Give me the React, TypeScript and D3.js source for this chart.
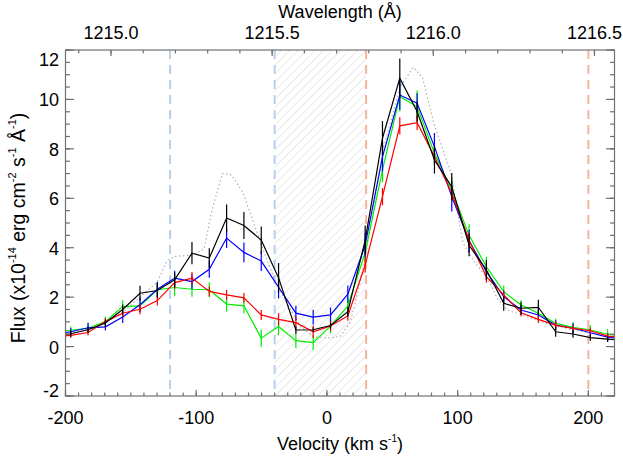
import React, { useEffect, useRef } from 'react';
import * as d3 from 'd3';

const WIDTH = 623;
const HEIGHT = 461;

// velocity bins (km/s); first and last bins sit just outside the frame
const velocity = [
  -209.25, -196, -182.75, -169.5, -156.25, -143, -129.75, -116.5, -103.25, -90,
  -76.75, -63.5, -50.25, -37, -23.75, -10.5, 2.75, 16, 29.25, 42.5,
  55.75, 69, 82.25, 95.5, 108.75, 122, 135.25, 148.5, 161.75, 175,
  188.25, 201.5, 214.75, 228,
];

const fluxBlack = [
  0.42, 0.52, 0.68, 0.95, 1.5, 2.16, 2.27, 2.7, 3.78, 3.58,
  5.2, 4.9, 4.31, 2.78, 0.67, 0.68, 0.85, 1.41, 4.3, 8.43,
  10.86, 9.51, 7.55, 6.47, 4.1, 3.1, 1.75, 1.55, 1.59, 0.6,
  0.51, 0.36, 0.3, 0.25,
];
const errBlack = [
  0.12, 0.12, 0.12, 0.15, 0.2, 0.3, 0.3, 0.3, 0.45, 0.4,
  0.55, 0.55, 0.55, 0.6, 0.15, 0.1, 0.12, 0.2, 0.6, 0.7,
  0.8, 0.4, 0.55, 0.55, 0.45, 0.4, 0.3, 0.25, 0.3, 0.2,
  0.15, 0.12, 0.12, 0.12,
];

const fluxBlue = [
  0.5, 0.6, 0.76, 0.8, 1.2, 1.69, 2.32, 2.77, 2.63, 3.13,
  4.39, 3.81, 3.46, 2.4, 1.35, 1.19, 1.28, 2.12, 4.1, 7.68,
  10.18, 9.85, 8.09, 6.07, 4.28, 3.03, 2.02, 1.48, 1.28, 0.87,
  0.74, 0.56, 0.38, 0.3,
];
const errBlue = [
  0.12, 0.15, 0.2, 0.15, 0.25, 0.3, 0.3, 0.3, 0.3, 0.35,
  0.4, 0.4, 0.4, 0.45, 0.3, 0.3, 0.3, 0.35, 0.5, 0.6,
  0.6, 0.4, 0.55, 0.6, 0.45, 0.35, 0.25, 0.2, 0.2, 0.2,
  0.2, 0.15, 0.15, 0.15,
];

const fluxGreen = [
  0.6, 0.66, 0.74, 1.01, 1.62, 1.65, 2.3, 2.39, 2.32, 2.3,
  1.72, 1.65, 0.34, 0.81, 0.24, 0.16, 0.83, 1.64, 3.8, 7.15,
  10.11, 9.71, 7.82, 6.34, 4.5, 3.23, 2.22, 1.68, 1.35, 0.94,
  0.78, 0.67, 0.5, 0.42,
];
const errGreen = [
  0.12, 0.15, 0.2, 0.2, 0.25, 0.25, 0.3, 0.35, 0.3, 0.3,
  0.3, 0.3, 0.35, 0.35, 0.3, 0.3, 0.3, 0.35, 0.5, 0.5,
  0.6, 0.65, 0.45, 0.5, 0.45, 0.4, 0.25, 0.2, 0.2, 0.2,
  0.2, 0.2, 0.2, 0.2,
];

const fluxRed = [
  0.4, 0.45, 0.57, 1.01, 1.35, 1.51, 1.86, 2.59, 2.77, 2.23,
  2.09, 1.97, 1.28, 1.1, 0.97, 0.6, 0.83, 1.24, 3.3, 6.07,
  8.93, 9.06, 7.69, 6.2, 4.3, 2.83, 2.09, 1.37, 1.1, 0.87,
  0.74, 0.64, 0.42, 0.35,
];
const errRed = [
  0.1, 0.1, 0.12, 0.15, 0.15, 0.2, 0.2, 0.25, 0.25, 0.2,
  0.2, 0.2, 0.2, 0.25, 0.25, 0.25, 0.2, 0.2, 0.3, 0.35,
  0.35, 0.3, 0.3, 0.3, 0.3, 0.25, 0.15, 0.15, 0.15, 0.15,
  0.12, 0.12, 0.12, 0.12,
];

// dotted reference profile
const dottedVel = [
  -212, -200, -183, -170, -156, -143, -130, -122, -116, -103,
  -94, -88, -80, -73, -64, -56, -48, -40, -30, -20,
  -10, 0, 10, 18, 25, 30, 43, 56, 66, 73,
  82, 95, 104, 112, 125, 130, 138, 156, 171, 190,
  205, 225,
];
const dottedFlux = [
  0.45, 0.5, 0.7, 0.95, 1.4, 2.0, 2.6, 3.5, 3.65, 3.7,
  3.95, 5.5, 7.0, 6.95, 6.2, 5.0, 3.8, 2.7, 1.7, 0.8,
  0.4, 0.35, 0.4, 1.0, 2.5, 3.8, 8.0, 10.5, 11.3, 10.9,
  9.0, 7.0, 4.2, 3.5, 2.57, 1.97, 1.48, 1.16, 0.88, 0.65,
  0.55, 0.45,
];

const velTicks = [-200, -100, 0, 100, 200];
const waveTicks = [1215.0, 1215.5, 1216.0, 1216.5];
const fluxTicks = [-2, 0, 2, 4, 6, 8, 10, 12];
const blueLines = [-120, -40];
const redLines = [30, 200];
const maskRange = [-40, 30];

const LYA = 1215.67;
const C_KMS = 299792.458;
const FONT = 'Liberation Sans, Arial, Helvetica, sans-serif';

export default function App() {
  const ref = useRef<SVGSVGElement>(null);

  useEffect(() => {
    const svg = d3.select(ref.current);
    svg.selectAll('*').remove();

    const left = 65.5, right = 614.5, top = 50, bottom = 396;

    const x = d3.scaleLinear().domain([-200, 220]).range([left, right]);
    const y = d3.scaleLinear().domain([-2, 12]).range([bottom, top]);
    const waveToVel = (w: number) => (C_KMS * (w - LYA)) / LYA;

    const defs = svg.append('defs');
    defs.append('clipPath').attr('id', 'frame')
      .append('rect')
      .attr('x', left).attr('y', top)
      .attr('width', right - left).attr('height', bottom - top);
    const pat = defs.append('pattern')
      .attr('id', 'hatch')
      .attr('patternUnits', 'userSpaceOnUse')
      .attr('width', 6).attr('height', 6)
      .attr('patternTransform', 'rotate(45)');
    pat.append('line')
      .attr('x1', 0).attr('y1', 0).attr('x2', 0).attr('y2', 6)
      .attr('stroke', '#d4d4d4').attr('stroke-width', 1);

    const plot = svg.append('g').attr('clip-path', 'url(#frame)');

    // masked velocity range
    plot.append('rect')
      .attr('x', x(maskRange[0])).attr('y', top)
      .attr('width', x(maskRange[1]) - x(maskRange[0]))
      .attr('height', bottom - top)
      .attr('fill', 'url(#hatch)');

    const vline = (vals: number[], color: string) => {
      plot.selectAll(null).data(vals).enter().append('line')
        .attr('x1', (d) => x(d)).attr('x2', (d) => x(d))
        .attr('y1', top).attr('y2', bottom)
        .attr('stroke', color).attr('stroke-width', 2)
        .attr('stroke-dasharray', '9,6');
    };
    vline(blueLines, '#b4d0ec');
    vline(redLines, '#f6b39c');

    const line = d3.line<[number, number]>()
      .x((d) => x(d[0]))
      .y((d) => y(d[1]));

    plot.append('path')
      .attr('d', line(dottedVel.map((v, i) => [v, dottedFlux[i]])))
      .attr('fill', 'none')
      .attr('stroke', '#b0b0b0')
      .attr('stroke-width', 1.2)
      .attr('stroke-dasharray', '1.5,2.5');

    const series = [
      { flux: fluxGreen, err: errGreen, color: '#00ee00' },
      { flux: fluxBlue, err: errBlue, color: '#0000ff' },
      { flux: fluxRed, err: errRed, color: '#ff0000' },
      { flux: fluxBlack, err: errBlack, color: '#000000' },
    ];

    series.forEach((s) => {
      plot.append('path')
        .attr('d', line(velocity.map((v, i) => [v, s.flux[i]])))
        .attr('fill', 'none')
        .attr('stroke', s.color)
        .attr('stroke-width', 1.2);
      plot.selectAll(null).data(velocity).enter().append('line')
        .attr('x1', (d) => x(d)).attr('x2', (d) => x(d))
        .attr('y1', (_, i) => y(s.flux[i] - s.err[i]))
        .attr('y2', (_, i) => y(s.flux[i] + s.err[i]))
        .attr('stroke', s.color)
        .attr('stroke-width', 1.2);
    });

    // frame + ticks
    const axisColor = '#707070';
    const ax = svg.append('g').attr('stroke', axisColor).attr('stroke-width', 1.2);
    ax.append('rect')
      .attr('x', left).attr('y', top)
      .attr('width', right - left).attr('height', bottom - top)
      .attr('fill', 'none');

    const velMinor = d3.range(-200, 221, 10);
    [[velMinor, 3.5], [velTicks, 6]].forEach(([vals, len]: any) => {
      ax.selectAll(null).data(vals).enter().append('line')
        .attr('x1', (d: number) => x(d)).attr('x2', (d: number) => x(d))
        .attr('y1', bottom).attr('y2', bottom - len);
    });

    const waveMinor = d3.range(12149, 12166).map((d) => d / 10)
      .filter((w) => waveToVel(w) >= -200 && waveToVel(w) <= 220);
    [[waveMinor, 3.5], [waveTicks, 6]].forEach(([vals, len]: any) => {
      ax.selectAll(null).data(vals).enter().append('line')
        .attr('x1', (d: number) => x(waveToVel(d))).attr('x2', (d: number) => x(waveToVel(d)))
        .attr('y1', top).attr('y2', top + len);
    });

    const fluxMinor = d3.range(-4, 25).map((d) => d / 2);
    [[fluxMinor, 4.5], [fluxTicks, 8.5]].forEach(([vals, len]: any) => {
      ax.selectAll(null).data(vals).enter().append('line')
        .attr('x1', left).attr('x2', left + len)
        .attr('y1', (d: number) => y(d)).attr('y2', (d: number) => y(d));
      ax.selectAll(null).data(vals).enter().append('line')
        .attr('x1', right).attr('x2', right - len)
        .attr('y1', (d: number) => y(d)).attr('y2', (d: number) => y(d));
    });

    // labels
    const txt = svg.append('g')
      .attr('font-family', FONT)
      .attr('font-size', 18)
      .attr('fill', '#000');

    txt.selectAll(null).data(velTicks).enter().append('text')
      .attr('x', (d) => x(d)).attr('y', 424)
      .attr('text-anchor', 'middle')
      .text((d) => String(d));

    txt.selectAll(null).data(waveTicks).enter().append('text')
      .attr('x', (d) => x(waveToVel(d))).attr('y', 39)
      .attr('text-anchor', 'middle')
      .text((d) => d.toFixed(1));

    txt.selectAll(null).data(fluxTicks).enter().append('text')
      .attr('x', 59)
      .attr('y', (d) => Math.min(Math.max(y(d) + 1, 60), 391))
      .attr('dominant-baseline', 'central')
      .attr('text-anchor', 'end')
      .text((d) => String(d));

    const vt = txt.append('text')
      .attr('x', (left + right) / 2).attr('y', 450)
      .attr('text-anchor', 'middle');
    vt.append('tspan').text('Velocity (km s');
    vt.append('tspan').attr('font-size', 10).attr('dy', -8).text('-1');
    vt.append('tspan').attr('dy', 8).text(')');

    txt.append('text')
      .attr('x', (left + right) / 2).attr('y', 18)
      .attr('text-anchor', 'middle')
      .text('Wavelength (Å)');

    const yt = txt.append('text')
      .attr('transform', `translate(25, ${(top + bottom) / 2 + 5}) rotate(-90)`)
      .attr('text-anchor', 'middle')
      .attr('font-size', 19.5);
    const sup = (s: string) => {
      yt.append('tspan').attr('font-size', 11).attr('dy', -9).text(s);
    };
    const base = (s: string) => {
      yt.append('tspan').attr('dy', 9).text(s);
    };
    yt.append('tspan').text('Flux (x10');
    sup('-14');
    base(' erg cm');
    sup('-2');
    base(' s');
    sup('-1');
    base(' Å');
    sup('-1');
    base(')');
  }, []);

  return (
    <svg
      ref={ref}
      width={WIDTH}
      height={HEIGHT}
      style={{ position: 'absolute', left: 0, top: 0, background: '#fff' }}
    />
  );
}
